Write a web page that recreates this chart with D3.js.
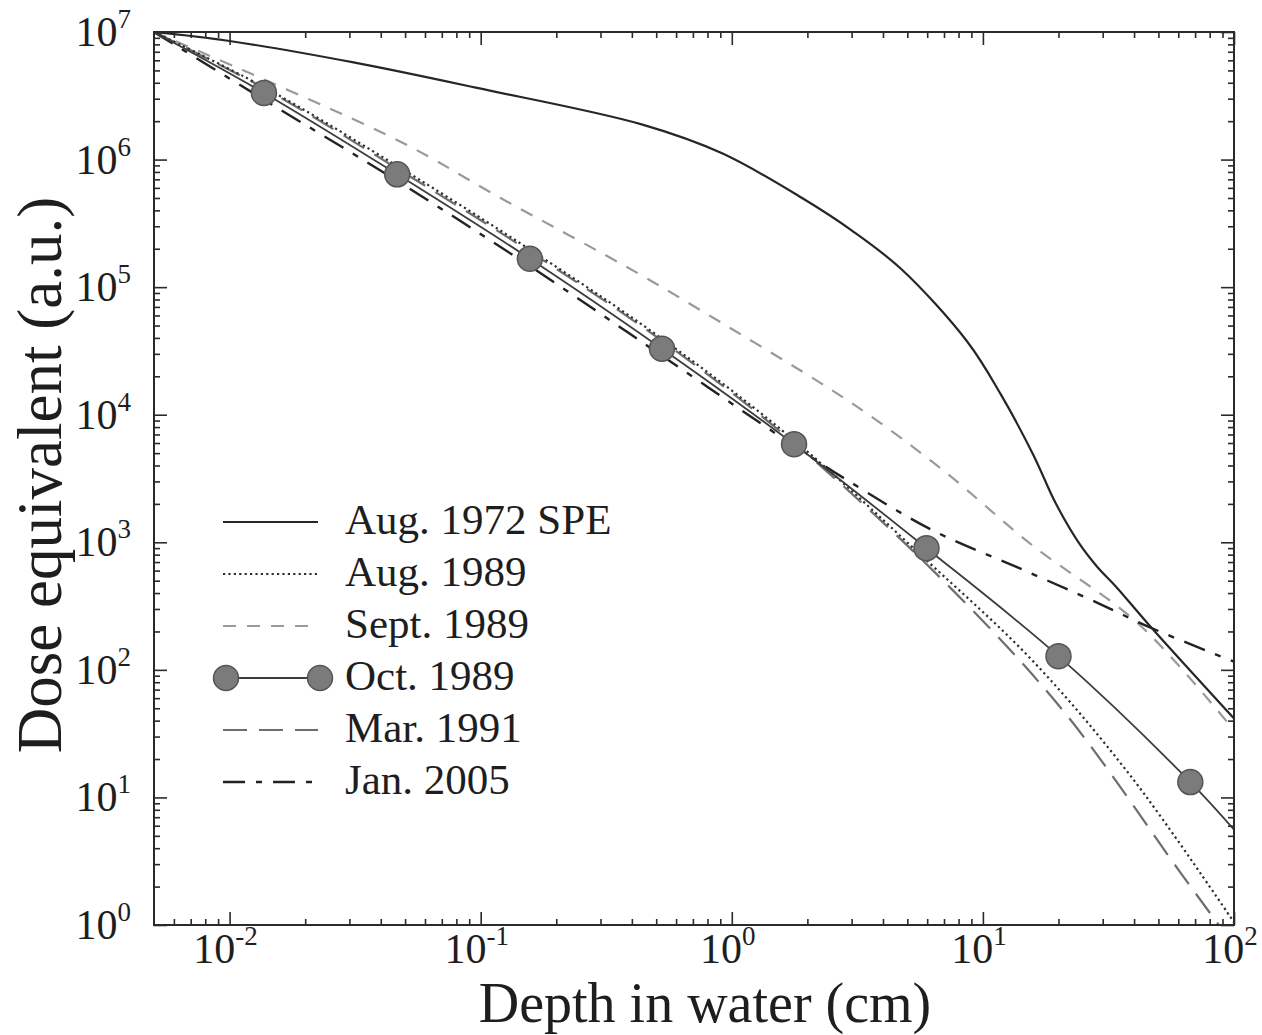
<!DOCTYPE html>
<html>
<head>
<meta charset="utf-8">
<script src="https://cdn.jsdelivr.net/npm/d3@7"></script>
<style>
  html, body { margin: 0; padding: 0; background: #ffffff; }
  svg { display: block; }
  text { font-family: "Liberation Serif", "Times New Roman", serif; fill: #1e1e1e; }
</style>
</head>
<body>
<svg id="chart" width="1262" height="1035"></svg>
<script>
// Depth–dose curves for several solar particle events (log–log).

const seriesNames = ["Aug. 1972 SPE", "Aug. 1989", "Sept. 1989", "Oct. 1989", "Mar. 1991", "Jan. 2005"];

const aug1972Depth = [0.005, 0.0100, 0.0308, 0.0956, 0.441, 0.915, 1.905, 3.0, 4.74, 8.7, 11.77, 15.9, 19.5, 24.3, 28.5, 33.9, 45.8, 100];
const aug1972Dose  = [1e7, 8.5e6, 5.8e6, 3.66e6, 1.88e6, 1.12e6, 5.0e5, 2.79e5, 1.38e5, 3.70e4, 1.45e4, 4.82e3, 2.02e3, 966, 644, 449, 226, 41.6];

const aug1989Depth = [0.005, 0.0137, 0.0465, 0.157, 0.527, 1.77, 5.95, 15.7, 39.0, 100];
const aug1989Dose  = [1e7, 3.7e6, 8.9e5, 1.97e5, 3.94e4, 6.3e3, 725, 119, 14.5, 1.05];

const sep1989Depth = [0.005, 0.0466, 0.12, 0.424, 1.02, 2.26, 3.46, 6.94, 15.7, 41.8, 100];
const sep1989Dose  = [1e7, 1.42e6, 5.0e5, 1.28e5, 4.59e4, 1.77e4, 1.02e4, 3.67e3, 950, 228, 33.6];

const oct1989Depth = [0.005, 0.0137, 0.0465, 0.157, 0.527, 1.77, 5.96, 20.0, 67.0, 100];
const oct1989Dose  = [1e7, 3.33e6, 7.67e5, 1.67e5, 3.29e4, 5.87e3, 899, 128, 13.2, 5.6];

const mar1991Depth = [0.005, 0.0137, 0.0465, 0.157, 0.527, 1.77, 7.36, 21.3, 61.5, 87.0, 100];
const mar1991Dose  = [1e7, 3.63e6, 8.5e5, 1.9e5, 3.8e4, 6.0e3, 447, 45.5, 2.54, 1.0, 0.69];

const jan2005Depth = [0.005, 0.0137, 0.0465, 0.157, 0.527, 1.77, 2.88, 6.31, 13.6, 29.0, 45.8, 100];
const jan2005Dose  = [1e7, 2.95e6, 6.8e5, 1.46e5, 2.9e4, 5.7e3, 3.07e3, 1.24e3, 641, 331, 217, 116];

const xTickExponents = [-2, -1, 0, 1, 2];
const yTickExponents = [0, 1, 2, 3, 4, 5, 6, 7];

const xTitle = "Depth in water (cm)";
const yTitle = "Dose equivalent (a.u.)";

// ---- layout ----
const plot = { left: 154, right: 1234, top: 32, bottom: 925 };

const svg = d3.select("#chart");

const x = d3.scaleLog().domain([0.005, 100]).range([plot.left, plot.right]);
const y = d3.scaleLog().domain([1, 1e7]).range([plot.bottom, plot.top]);

const zip = (xs, ys) => xs.map((d, i) => ({ x: d, y: ys[i] }));

const series = [
  { name: seriesNames[0], pts: zip(aug1972Depth, aug1972Dose), color: "#262626", width: 2.2, dash: null },
  { name: seriesNames[1], pts: zip(aug1989Depth, aug1989Dose), color: "#2e2e2e", width: 2.2, dash: "2.2,3.2" },
  { name: seriesNames[2], pts: zip(sep1989Depth, sep1989Dose), color: "#9a9a9a", width: 2.2, dash: "13,11" },
  { name: seriesNames[3], pts: zip(oct1989Depth, oct1989Dose), color: "#3c3c3c", width: 1.8, dash: null, markers: true },
  { name: seriesNames[4], pts: zip(mar1991Depth, mar1991Dose), color: "#6e6e6e", width: 2.2, dash: "24,12" },
  { name: seriesNames[5], pts: zip(jan2005Depth, jan2005Dose), color: "#222222", width: 2.4, dash: "22,11,6,11" }
];

svg.append("defs").append("clipPath").attr("id", "plotClip")
  .append("rect")
  .attr("x", plot.left).attr("y", plot.top)
  .attr("width", plot.right - plot.left).attr("height", plot.bottom - plot.top);

// ---- curves ----
const line = d3.line()
  .x(d => x(d.x))
  .y(d => y(d.y))
  .curve(d3.curveCatmullRom.alpha(0.5));

const curves = svg.append("g").attr("clip-path", "url(#plotClip)");

// lighter / dashed curves first, Oct. 1989 with its markers on top
const drawOrder = [2, 4, 1, 5, 0, 3];
drawOrder.forEach(i => {
  const s = series[i];
  curves.append("path")
    .datum(s.pts)
    .attr("fill", "none")
    .attr("stroke", s.color)
    .attr("stroke-width", s.width)
    .attr("stroke-dasharray", s.dash)
    .attr("stroke-linejoin", "round")
    .attr("d", line);
});

// Oct. 1989 sample points (interior points carry markers)
const oct = series[3];
svg.append("g").selectAll("circle")
  .data(oct.pts.slice(1, -1))
  .join("circle")
  .attr("cx", d => x(d.x))
  .attr("cy", d => y(d.y))
  .attr("r", 12.5)
  .attr("fill", "#7b7b7b")
  .attr("stroke", "#555555")
  .attr("stroke-width", 1.5);

// ---- frame and ticks ----
const axisColor = "#2a2a2a";
const majorLen = 13, minorLen = 6;

function minorValues(lo, hi) {
  const out = [];
  for (let e = Math.floor(Math.log10(lo)); e <= Math.ceil(Math.log10(hi)); e++) {
    for (let k = 2; k <= 9; k++) {
      const v = k * Math.pow(10, e);
      if (v > lo * 1.0001 && v < hi * 0.9999) out.push(v);
    }
  }
  return out;
}

const xMajor = xTickExponents.map(e => Math.pow(10, e));
const yMajor = yTickExponents.map(e => Math.pow(10, e));
const xMinor = minorValues(0.005, 100);
const yMinor = minorValues(1, 1e7);

const frame = svg.append("g");

// bottom / top
frame.append("g").attr("transform", `translate(0,${plot.bottom})`)
  .call(d3.axisBottom(x).tickValues(xMajor).tickSize(-majorLen).tickFormat(""));
frame.append("g").attr("transform", `translate(0,${plot.bottom})`)
  .call(d3.axisBottom(x).tickValues(xMinor).tickSize(-minorLen).tickFormat(""));
frame.append("g").attr("transform", `translate(0,${plot.top})`)
  .call(d3.axisTop(x).tickValues(xMajor).tickSize(-majorLen).tickFormat(""));
frame.append("g").attr("transform", `translate(0,${plot.top})`)
  .call(d3.axisTop(x).tickValues(xMinor).tickSize(-minorLen).tickFormat(""));
// left / right
frame.append("g").attr("transform", `translate(${plot.left},0)`)
  .call(d3.axisLeft(y).tickValues(yMajor).tickSize(-majorLen).tickFormat(""));
frame.append("g").attr("transform", `translate(${plot.left},0)`)
  .call(d3.axisLeft(y).tickValues(yMinor).tickSize(-minorLen).tickFormat(""));
frame.append("g").attr("transform", `translate(${plot.right},0)`)
  .call(d3.axisRight(y).tickValues(yMajor).tickSize(-majorLen).tickFormat(""));
frame.append("g").attr("transform", `translate(${plot.right},0)`)
  .call(d3.axisRight(y).tickValues(yMinor).tickSize(-minorLen).tickFormat(""));

frame.selectAll(".domain").remove();
frame.selectAll(".tick line").attr("stroke", axisColor).attr("stroke-width", 1.6);

frame.append("rect")
  .attr("x", plot.left).attr("y", plot.top)
  .attr("width", plot.right - plot.left).attr("height", plot.bottom - plot.top)
  .attr("fill", "none").attr("stroke", axisColor).attr("stroke-width", 2);

// ---- tick labels (powers of ten) ----
function powerLabel(sel, exp) {
  sel.append("tspan").text("10");
  sel.append("tspan").attr("dy", -18).attr("font-size", 27).text(String(exp));
}

svg.append("g").selectAll("text")
  .data(xTickExponents)
  .join("text")
  .attr("x", e => x(Math.pow(10, e)) - 4)
  .attr("y", plot.bottom + 38)
  .attr("text-anchor", "middle")
  .attr("font-size", 42)
  .each(function (e) { powerLabel(d3.select(this), e); });

svg.append("g").selectAll("text")
  .data(yTickExponents)
  .join("text")
  .attr("x", 131)
  .attr("y", e => y(Math.pow(10, e)) + 14)
  .attr("text-anchor", "end")
  .attr("font-size", 42)
  .each(function (e) { powerLabel(d3.select(this), e); });

// ---- axis titles ----
svg.append("text")
  .attr("x", 705).attr("y", 1022)
  .attr("text-anchor", "middle")
  .attr("font-size", 56)
  .text(xTitle);

svg.append("text")
  .attr("transform", "translate(61,475) rotate(-90)")
  .attr("text-anchor", "middle")
  .attr("font-size", 63)
  .text(yTitle);

// ---- legend ----
const legend = svg.append("g");
const legendRows = [0, 1, 2, 3, 4, 5].map(i => ({ s: series[i], yPos: 522 + i * 52 }));

legendRows.forEach(({ s, yPos }) => {
  const isOct = !!s.markers;
  const x0 = isOct ? 226 : 223, x1 = isOct ? 320 : 318;
  legend.append("line")
    .attr("x1", x0).attr("x2", x1).attr("y1", yPos).attr("y2", yPos)
    .attr("stroke", s.color).attr("stroke-width", s.width)
    .attr("stroke-dasharray", s.dash);
  if (isOct) {
    [x0, x1].forEach(cx => legend.append("circle")
      .attr("cx", cx).attr("cy", yPos).attr("r", 12.5)
      .attr("fill", "#7b7b7b").attr("stroke", "#555555").attr("stroke-width", 1.5));
  }
  legend.append("text")
    .attr("x", 345).attr("y", yPos + 12)
    .attr("font-size", 43)
    .text(s.name);
});
</script>
</body>
</html>
